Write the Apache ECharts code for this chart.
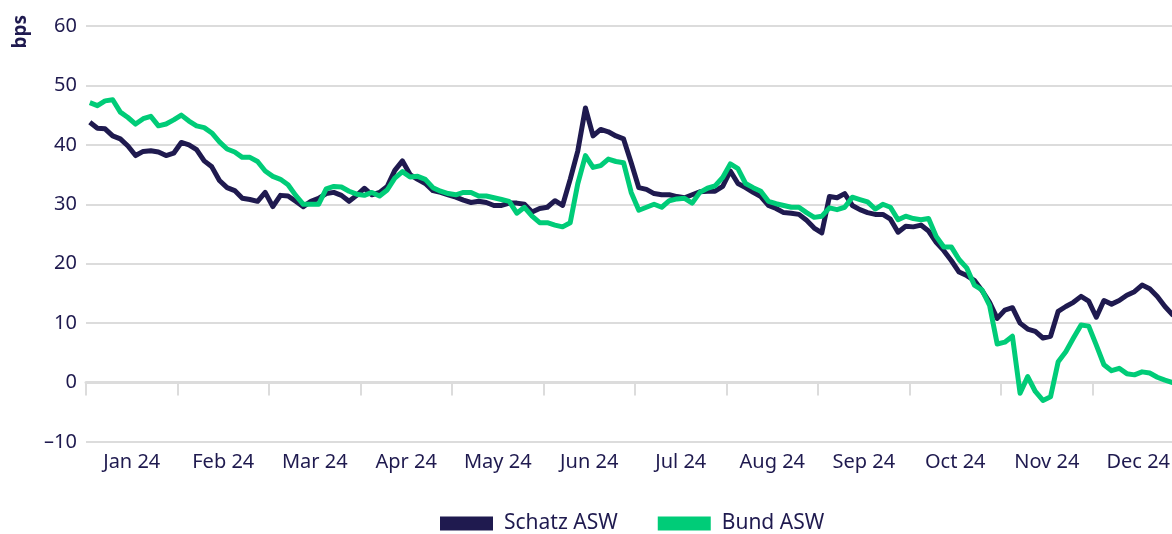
<!DOCTYPE html>
<html>
<head>
<meta charset="utf-8">
<script src="https://cdn.jsdelivr.net/npm/echarts@6/dist/echarts.min.js"></script>
<style>
  html, body { margin: 0; padding: 0; background: #fff; }
  #chart { width: 1172px; height: 534px; }
</style>
</head>
<body>
<div id="chart"></div>
<script>
// month labels on the axis
var months = ['Jan 24', 'Feb 24', 'Mar 24', 'Apr 24', 'May 24', 'Jun 24',
  'Jul 24', 'Aug 24', 'Sep 24', 'Oct 24', 'Nov 24', 'Dec 24'];

// readings, 12 per month (bps)
var schatz = [
  43.8, 42.8, 42.7, 41.5, 41.0, 39.8, 38.2, 38.9, 39.0, 38.8, 38.2, 38.6,
  40.4, 40.0, 39.2, 37.3, 36.3, 34.0, 32.8, 32.3, 31.0, 30.8, 30.5, 32.0,
  29.6, 31.5, 31.4, 30.5, 29.6, 30.5, 31.0, 31.8, 32.0, 31.5, 30.5, 31.5,
  32.7, 31.6, 32.0, 33.0, 35.7, 37.3, 35.0, 34.2, 33.5, 32.3, 32.0, 31.6,
  31.2, 30.7, 30.3, 30.5, 30.3, 29.8, 29.8, 30.2, 30.2, 30.0, 28.7, 29.3,
  29.5, 30.6, 29.8, 34.2, 39.0, 46.2, 41.5, 42.6, 42.2, 41.5, 41.0, 37.0,
  32.8, 32.5, 31.8, 31.6, 31.6, 31.3, 31.1, 31.6, 32.1, 32.2, 32.2, 33.0,
  35.6, 33.5, 32.8, 32.0, 31.3, 29.8, 29.3, 28.6, 28.5, 28.3, 27.3, 26.0,
  25.2, 31.3, 31.1, 31.8, 29.8, 29.1, 28.6, 28.3, 28.3, 27.5, 25.3, 26.3,
  26.2, 26.5, 25.5, 23.6, 22.2, 20.5, 18.6, 18.0, 17.2, 15.5, 13.5, 10.8,
  12.2, 12.6, 10.0, 9.0, 8.6, 7.5, 7.8, 12.0, 12.8, 13.5, 14.5, 13.7,
  11.0, 13.8, 13.2, 13.8, 14.7, 15.3, 16.4, 15.8, 14.5, 12.8, 11.4, 10.8
];
var bund = [
  47.1, 46.6, 47.4, 47.6, 45.5, 44.6, 43.5, 44.4, 44.8, 43.2, 43.5, 44.2,
  45.0, 44.0, 43.2, 42.9, 42.0, 40.5, 39.3, 38.8, 37.9, 37.9, 37.2, 35.6,
  34.7, 34.2, 33.3, 31.5, 30.0, 30.0, 30.0, 32.6, 33.0, 32.9, 32.2, 31.7,
  31.5, 32.0, 31.4, 32.4, 34.4, 35.5, 34.6, 34.7, 34.2, 32.8, 32.2, 31.8,
  31.6, 32.0, 32.0, 31.4, 31.4, 31.1, 30.8, 30.5, 28.5, 29.5, 28.0, 26.9,
  26.9, 26.5, 26.2, 26.9, 33.5, 38.2, 36.2, 36.5, 37.6, 37.2, 37.0, 32.0,
  29.0, 29.5, 30.0, 29.5, 30.6, 30.9, 31.0, 30.2, 32.0, 32.7, 33.1, 34.5,
  36.8, 36.0, 33.5, 32.8, 32.2, 30.5, 30.1, 29.8, 29.5, 29.5, 28.6, 27.8,
  28.0, 29.4, 29.1, 29.5, 31.2, 30.8, 30.4, 29.2, 30.0, 29.5, 27.4, 28.0,
  27.6, 27.4, 27.6, 24.6, 22.8, 22.8, 20.7, 19.3, 16.4, 15.6, 13.0, 6.5,
  6.8, 7.8, -1.8, 1.0, -1.5, -3.0, -2.4, 3.5, 5.2, 7.5, 9.7, 9.5,
  6.3, 3.0, 2.0, 2.4, 1.5, 1.3, 1.8, 1.6, 0.9, 0.4, 0.0, -0.2
];

var steps = schatz.map(function (v, i) { return i; });
var ink = '#1f1a4f';
var font = 'Noto Sans';

var chart = echarts.init(document.getElementById('chart'));
chart.setOption({
  animation: false,
  // plot runs a little past the right edge of the page, like the original
  grid: { left: 86, width: 1098, top: 26, bottom: 92, outerBoundsMode: 'none', containLabel: false },
  xAxis: [
    {
      type: 'category',
      data: months,
      boundaryGap: true,
      axisLine: { lineStyle: { color: '#dcdcdc', width: 3 } },
      axisTick: { show: true, length: 13, lineStyle: { color: '#dcdcdc', width: 2 } },
      axisLabel: { color: ink, fontFamily: font, fontSize: 20, margin: 10 },
      splitLine: { show: false }
    },
    {
      type: 'category',
      data: steps,
      boundaryGap: true,
      show: false
    }
  ],
  yAxis: {
    type: 'value',
    min: -10,
    max: 60,
    interval: 10,
    axisLine: { show: false },
    axisTick: { show: false },
    axisLabel: {
      color: ink, fontFamily: font, fontSize: 20, margin: 9,
      formatter: function (v) { return v < 0 ? '\u2013' + Math.abs(v) : String(v); }
    },
    splitLine: { lineStyle: { color: '#dcdcdc', width: 2 } }
  },
  graphic: [{
    type: 'text',
    left: 11,
    top: 15,
    rotation: Math.PI / 2,
    style: { text: 'bps', fill: ink, font: 'bold 19px "Noto Sans"' }
  }],
  legend: {
    left: 440,
    top: 513,
    padding: 0,
    itemWidth: 53,
    itemHeight: 14,
    itemGap: 40,
    icon: 'rect',
    textStyle: { color: ink, fontFamily: font, fontSize: 21, padding: [0, 0, 0, 6] },
    data: ['Schatz ASW', 'Bund ASW']
  },
  series: [
    {
      name: 'Schatz ASW',
      type: 'line',
      xAxisIndex: 1,
      data: schatz,
      showSymbol: false,
      symbol: 'none',
      color: ink,
      lineStyle: { width: 5, color: ink, join: 'round' }
    },
    {
      name: 'Bund ASW',
      type: 'line',
      xAxisIndex: 1,
      data: bund,
      showSymbol: false,
      symbol: 'none',
      color: '#00cc78',
      lineStyle: { width: 5, color: '#00cc78', join: 'round' }
    }
  ]
});
</script>
</body>
</html>
